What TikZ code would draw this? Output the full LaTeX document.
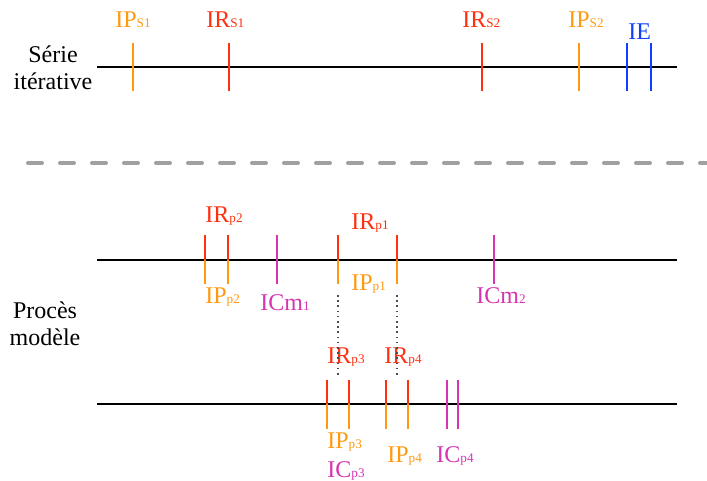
\documentclass[tikz,border=0pt]{standalone}
\usepackage{fontspec}
\setmainfont{Liberation Serif}
\usepackage{tikz}
\usetikzlibrary{positioning}
\definecolor{cIR}{RGB}{255,48,16}
\definecolor{cIP}{RGB}{255,153,16}
\definecolor{cIC}{RGB}{213,53,176}
\definecolor{cIE}{RGB}{16,64,255}
\definecolor{cSep}{RGB}{160,160,160}
\newcommand{\idx}[1]{{\fontsize{6.6}{7}\selectfont #1}}
\tikzset{%
  axis/.style={line width=1.2pt},
  tick/.style={line width=1pt},
  lbl/.style={anchor=base west, inner sep=0pt, font=\fontsize{12}{14}\selectfont}%
}

\begin{document}
\begin{tikzpicture}[
    x=0.5pt, y=-0.5pt,
    title/.style={anchor=base, inner sep=0pt, font=\fontsize{12}{14}\selectfont},
    sep/.style={cSep, line width=2pt, line cap=round, dash pattern=on 7pt off 9pt},
    link/.style={black!70, line width=0.8pt, dash pattern=on 0.8pt off 1.8pt}
]
\useasboundingbox (0,0) rectangle (707,481);

% Titles
\node[title] (serie) at (53,63) {Série};
\node[title] (iter) at (53,90) {itérative};
\node[title] (proces) at (45,318) {Procès};
\node[title] (modele) at (45,345) {modèle};

% Axes
\coordinate (s0) at (97,67);  \coordinate (s1) at (677,67);
\coordinate (m0) at (97,260); \coordinate (m1) at (677,260);
\coordinate (b0) at (97,404); \coordinate (b1) at (677,404);
\draw[axis] (s0) -- (s1);
\draw[axis] (m0) -- (m1);
\draw[axis] (b0) -- (b1);

% Separator
\coordinate (sepL) at (28,163);
\coordinate (sepR) at (712,163);
\draw[sep] (sepL) -- (sepR);

% Ticks, iterative series
\draw[tick, cIP] (133,43) -- (133,91);
\draw[tick, cIR] (229,43) -- (229,91);
\draw[tick, cIR] (482,43) -- (482,91);
\draw[tick, cIP] (579,43) -- (579,91);
\draw[tick, cIE] (627,43) -- (627,91);
\draw[tick, cIE] (651,43) -- (651,91);

% Ticks, model process (upper row)
\foreach \x in {205,228,338,397}{
  \draw[tick, cIR] (\x,235) -- (\x,260);
  \draw[tick, cIP] (\x,260) -- (\x,284);
}
\draw[tick, cIC] (277,235) -- (277,284);
\draw[tick, cIC] (494,235) -- (494,284);

% Ticks, model process (lower row)
\foreach \x in {327,349,386,408}{
  \draw[tick, cIR] (\x,380) -- (\x,404);
  \draw[tick, cIP] (\x,404) -- (\x,429);
}
\draw[tick, cIC] (447,380) -- (447,429);
\draw[tick, cIC] (458,380) -- (458,429);

% Labels
\node[lbl, cIP] (ips1) at (115,28) {IP\idx{S1}};
\node[lbl, cIR] (irs1) at (206,28) {IR\idx{S1}};
\node[lbl, cIR] (irs2) at (462,28) {IR\idx{S2}};
\node[lbl, cIP] (ips2) at (568,28) {IP\idx{S2}};
\node[lbl, cIE] (ie) at (628,40) {IE};

\node[lbl, cIR] (irp2) at (205,222) {IR\idx{p2}};
\node[lbl, cIR] (irp1) at (351,229) {IR\idx{p1}};
\node[lbl, cIP] (ipp2) at (205,303) {IP\idx{p2}};
\node[lbl, cIC] (icm1) at (260,310) {ICm\idx{1}};
\node[lbl, cIP] (ipp1) at (351,290) {IP\idx{p1}};
\node[lbl, cIC] (icm2) at (476,303) {ICm\idx{2}};

\node[lbl, cIR] (irp3) at (327,363) {IR\idx{p3}};
\node[lbl, cIR] (irp4) at (384,363) {IR\idx{p4}};
\node[lbl, cIP] (ipp3) at (327,448) {IP\idx{p3}};
\node[lbl, cIC] (icp3) at (327,477) {IC\idx{p3}};
\node[lbl, cIP] (ipp4) at (387,462) {IP\idx{p4}};
\node[lbl, cIC] (icp4) at (436,462) {IC\idx{p4}};

% Links between the two rows
\coordinate (d1top) at (338,295); \coordinate (d1bot) at (338,378);
\coordinate (d2top) at (397,295); \coordinate (d2bot) at (397,378);
\draw[link] (d1top) -- (d1bot);
\draw[link] (d2top) -- (d2bot);

\end{tikzpicture}
\end{document}
